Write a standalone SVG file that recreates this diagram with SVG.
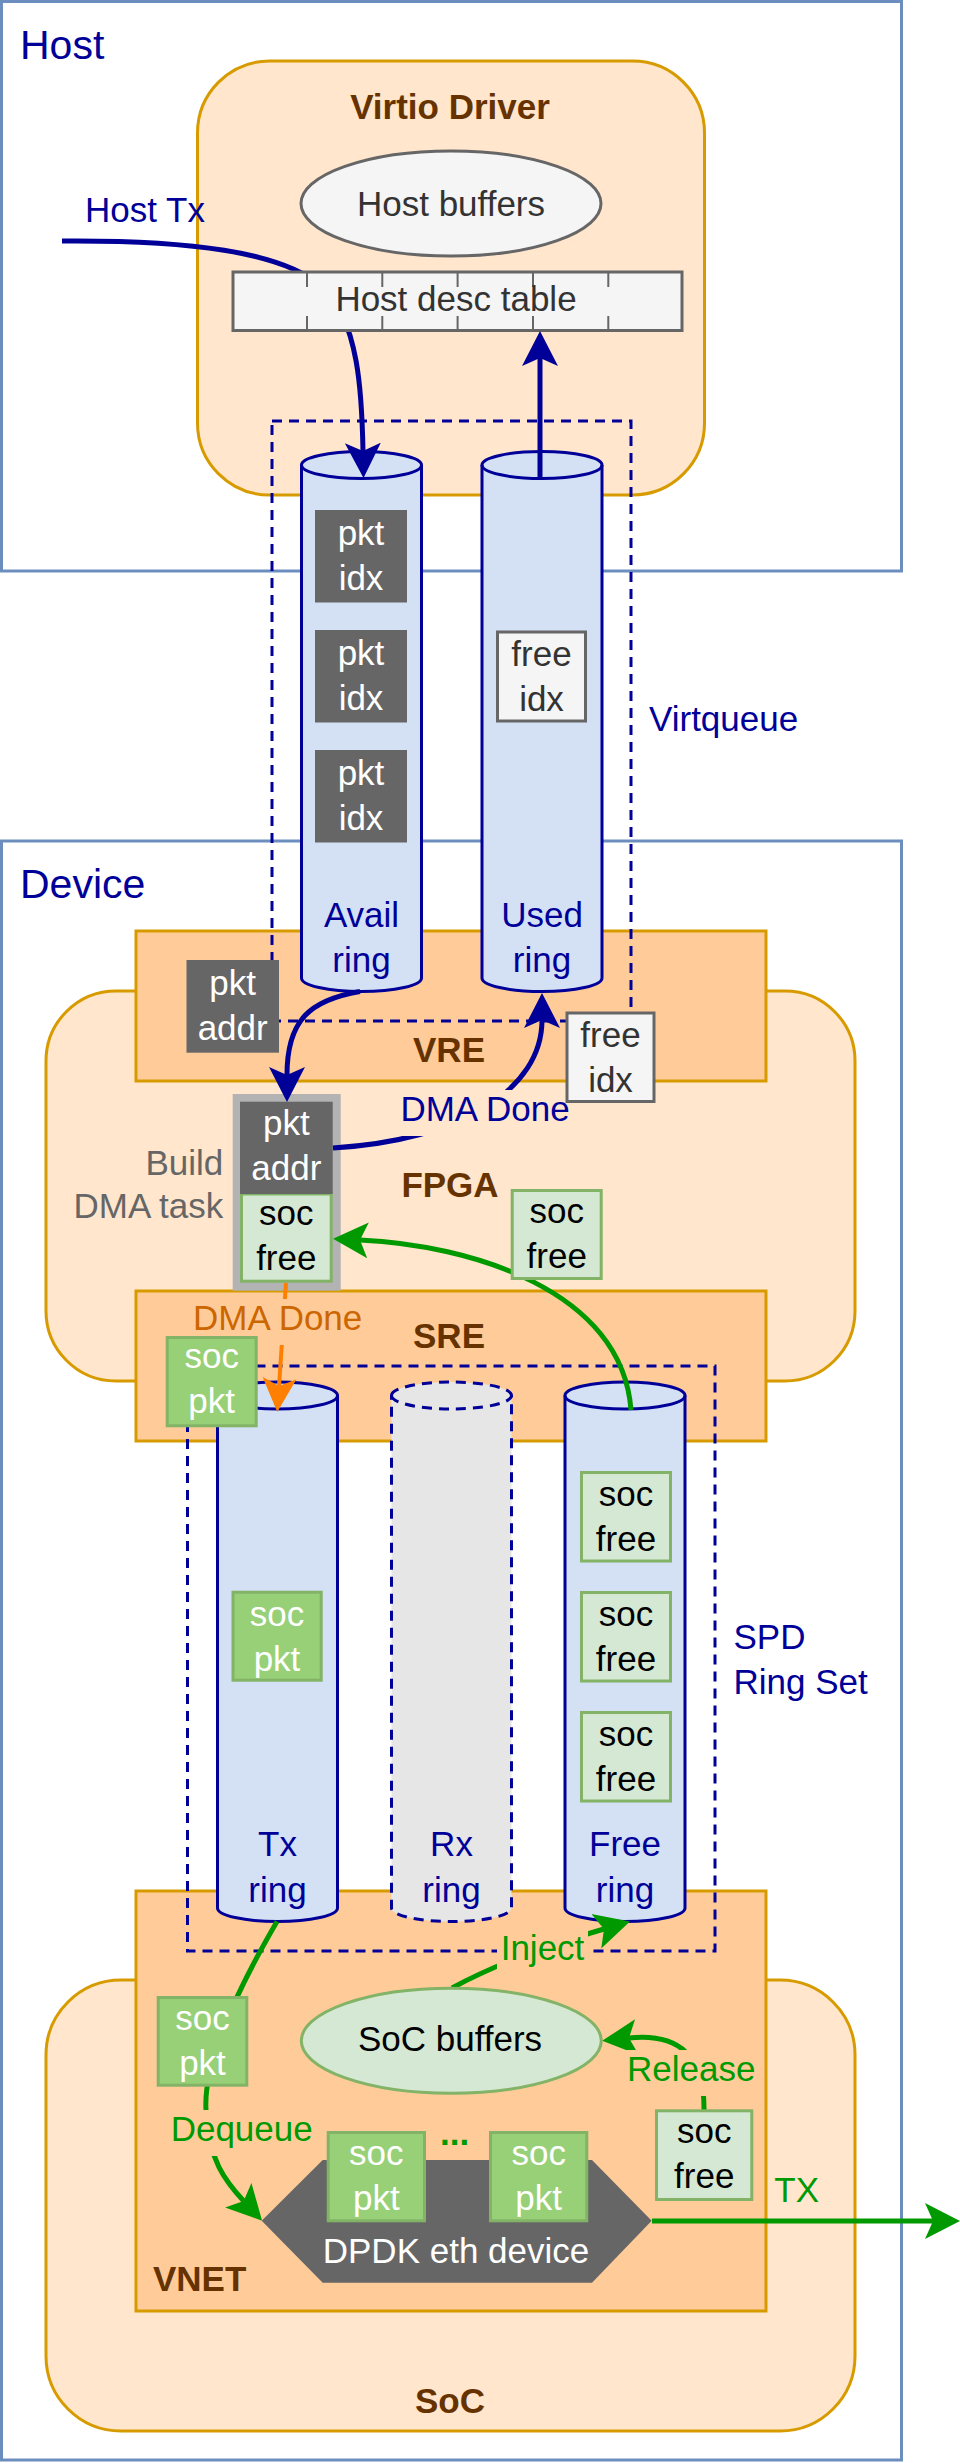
<svg xmlns="http://www.w3.org/2000/svg" width="960" height="2463" viewBox="0 0 960 2463">
<style>
text{font-family:"Liberation Sans",Arial,Helvetica,sans-serif;font-size:35px}
.m{text-anchor:middle}
.e{text-anchor:end}
.tw{fill:#ffffff}
.tb{fill:#000099}
.tg{fill:#009900}
.tbr{fill:#663300;font-weight:bold}
.tgr{fill:#333333}
.tk{fill:#000000}
.tgy{fill:#666666}
.to{fill:#cc6600}
.outer{fill:#ffffff;stroke:#6c8ebf;stroke-width:3}
.soft{fill:#ffe6cc;stroke:#d79b00;stroke-width:3}
.mid{fill:#ffcc99;stroke:#d79b00;stroke-width:3}
.dash{fill:none;stroke:#000099;stroke-width:3;stroke-dasharray:10 7}
.ring{fill:#d4e1f5;stroke:#000099;stroke-width:3}
.ringx{fill:#e6e6e6;stroke:#000099;stroke-width:3;stroke-dasharray:10 7}
.rim{fill:none;stroke:#000099;stroke-width:3}
.rimx{fill:none;stroke:#000099;stroke-width:3;stroke-dasharray:10 7}
.dark{fill:#666666}
.gbox{fill:#97d077;stroke:#82b366;stroke-width:3}
.lbox{fill:#d5e8d4;stroke:#82b366;stroke-width:3}
.wbox{fill:#f5f5f5;stroke:#666666;stroke-width:3}
.eb{fill:none;stroke:#000099;stroke-width:5}
.eg{fill:none;stroke:#009900;stroke-width:5}
.eo{fill:none;stroke:#ff8000;stroke-width:4}
.bgs{fill:#ffe6cc}
.bgm{fill:#ffcc99}
</style>
<defs>
<marker id="ahb" viewBox="0 0 40 40" refX="8" refY="20" markerWidth="40" markerHeight="40" markerUnits="userSpaceOnUse" orient="auto"><path d="M35,20 L0,2 L8,20 L0,38 Z" fill="#000099"/></marker>
<marker id="ahg" viewBox="0 0 40 40" refX="8" refY="20" markerWidth="40" markerHeight="40" markerUnits="userSpaceOnUse" orient="auto"><path d="M35,20 L0,2 L8,20 L0,38 Z" fill="#009900"/></marker>
<marker id="aho" viewBox="0 0 40 40" refX="8" refY="20" markerWidth="40" markerHeight="40" markerUnits="userSpaceOnUse" orient="auto"><path d="M34,20 L0,3 L8,20 L0,37 Z" fill="#ff8000"/></marker>
</defs>
<rect width="960" height="2463" fill="#ffffff"/>

<g id="host">
<rect class="outer" x="1.5" y="1.5" width="900" height="569.5"/>
<text x="20" y="59" class="tb" style="font-size:41px">Host</text>
</g>
<g id="device">
<rect class="outer" x="1.5" y="841" width="900" height="1619"/>
<text x="20" y="898" class="tb" style="font-size:41px">Device</text>
</g>

<g id="virtio-driver">
<rect class="soft" x="197.5" y="61" width="507" height="434" rx="72" ry="72"/>
<text x="450" y="119" class="m tbr">Virtio Driver</text>
</g>
<g id="host-buffers">
<ellipse cx="451" cy="203.5" rx="150" ry="52.5" fill="#f5f5f5" stroke="#666666" stroke-width="3"/>
<text x="451" y="216" class="m tgr">Host buffers</text>
</g>

<g id="fpga">
<rect class="soft" x="46" y="991" width="809" height="390" rx="70" ry="70"/>
<text x="450" y="1196.5" class="m tbr">FPGA</text>
</g>
<g id="vre">
<rect class="mid" x="136" y="931" width="630" height="150"/>
<text x="449" y="1061.5" class="m tbr">VRE</text>
</g>
<g id="sre">
<rect class="mid" x="136" y="1291" width="630" height="150"/>
<text x="449" y="1348" class="m tbr">SRE</text>
</g>
<g id="soc">
<rect class="soft" x="46" y="1980" width="809" height="451" rx="75" ry="75"/>
<text x="450" y="2413" class="m tbr">SoC</text>
</g>
<g id="vnet">
<rect class="mid" x="136" y="1891" width="630" height="420"/>
<text x="153" y="2290.5" class="tbr">VNET</text>
</g>

<g id="virtqueue">
<rect class="dash" x="272" y="421" width="359" height="600"/>
<text x="649" y="730.5" class="tb">Virtqueue</text>
</g>
<g id="spd-ring-set">
<rect class="dash" x="187.5" y="1366" width="527.5" height="585"/>
<text x="733.5" y="1649.3" class="tb">SPD</text>
<text x="733.5" y="1694.3" class="tb">Ring Set</text>
</g>

<g id="avail-ring">
<path class="ring" d="M301.5,465 A60,13.5 0 0 1 421.5,465 V978 A60,13.5 0 0 1 301.5,978 Z"/>
<path class="rim" d="M301.5,465 A60,13.5 0 0 0 421.5,465"/>
<text x="361.5" y="926.5" class="m tb">Avail</text>
<text x="361.5" y="971.5" class="m tb">ring</text>
</g>
<g id="used-ring">
<path class="ring" d="M482,465 A60,13.5 0 0 1 602,465 V978 A60,13.5 0 0 1 482,978 Z"/>
<path class="rim" d="M482,465 A60,13.5 0 0 0 602,465"/>
<text x="542" y="926.5" class="m tb">Used</text>
<text x="542" y="971.5" class="m tb">ring</text>
</g>
<g id="tx-ring">
<path class="ring" d="M217.5,1395.5 A60,13.5 0 0 1 337.5,1395.5 V1908 A60,13.5 0 0 1 217.5,1908 Z"/>
<path class="rim" d="M217.5,1395.5 A60,13.5 0 0 0 337.5,1395.5"/>
<text x="277.5" y="1856" class="m tb">Tx</text>
<text x="277.5" y="1901.5" class="m tb">ring</text>
</g>
<g id="rx-ring">
<path class="ringx" d="M391.5,1395.5 A60,13.5 0 0 1 511.5,1395.5 V1908 A60,13.5 0 0 1 391.5,1908 Z"/>
<path class="rimx" d="M391.5,1395.5 A60,13.5 0 0 0 511.5,1395.5"/>
<text x="451.5" y="1856" class="m tb">Rx</text>
<text x="451.5" y="1901.5" class="m tb">ring</text>
</g>
<g id="free-ring">
<path class="ring" d="M565,1395.5 A60,13.5 0 0 1 685,1395.5 V1908 A60,13.5 0 0 1 565,1908 Z"/>
<path class="rim" d="M565,1395.5 A60,13.5 0 0 0 685,1395.5"/>
<text x="625" y="1856" class="m tb">Free</text>
<text x="625" y="1901.5" class="m tb">ring</text>
</g>

<g id="pkt-idx-1"><rect class="dark" x="315" y="510" width="92" height="92.5"/><text x="361" y="545" class="m tw">pkt</text><text x="361" y="590" class="m tw">idx</text></g>
<g id="pkt-idx-2"><rect class="dark" x="315" y="630" width="92" height="92.5"/><text x="361" y="665" class="m tw">pkt</text><text x="361" y="710" class="m tw">idx</text></g>
<g id="pkt-idx-3"><rect class="dark" x="315" y="750" width="92" height="92.5"/><text x="361" y="785" class="m tw">pkt</text><text x="361" y="830" class="m tw">idx</text></g>
<g id="free-idx-used"><rect class="wbox" x="497.5" y="632" width="88" height="89"/><text x="541.5" y="665.5" class="m tgr">free</text><text x="541.5" y="710.5" class="m tgr">idx</text></g>
<g id="pkt-addr-vre"><rect class="dark" x="186.5" y="960" width="92.5" height="92.7"/><text x="232.7" y="995" class="m tw">pkt</text><text x="232.7" y="1040" class="m tw">addr</text></g>

<g id="build-dma-task">
<rect fill="#b3b3b3" x="232.7" y="1094" width="108" height="196.7"/>
<rect class="lbox" x="241.5" y="1194" width="89.7" height="87.2"/>
<rect class="dark" x="240" y="1101.7" width="92.7" height="92.3"/>
<text x="286.3" y="1135" class="m tw">pkt</text>
<text x="286.3" y="1180" class="m tw">addr</text>
<text x="286.3" y="1225" class="m tk">soc</text>
<text x="286.3" y="1270" class="m tk">free</text>
<text x="223.3" y="1175" class="e tgy">Build</text>
<text x="223.3" y="1218" class="e tgy">DMA task</text>
</g>

<g id="dpdk-eth-device">
<polygon class="dark" points="261.7,2220.7 322.7,2160 592,2160 651.7,2220.7 592,2282.7 322.7,2282.7"/>
<text x="456" y="2262.5" class="m tw">DPDK eth device</text>
</g>

<g id="host-desc-table">
<g id="connectors-under-table">
<path class="eb" d="M62,241 C190,240 280,252 320,285 S362,400 363,451" marker-end="url(#ahb)"/>
</g>
<rect x="233" y="272" width="449" height="58.5" fill="#f5f5f5" stroke="#666666" stroke-width="3"/>
<path d="M307,272 V287 M382.3,272 V287 M457.6,272 V287 M533,272 V287 M608.3,272 V287 M307,316 V330.5 M382.3,316 V330.5 M457.6,316 V330.5 M533,316 V330.5 M608.3,316 V330.5" stroke="#666666" stroke-width="2" fill="none"/>
<text x="456" y="311" class="m tgr">Host desc table</text>
</g>
<text x="85" y="221.5" class="tb">Host Tx</text>

<g id="connectors">
<path class="eb" d="M540,478 L540,358" marker-end="url(#ahb)"/>
<path class="eb" d="M360,991.5 C310,1000 287,1020 287,1075" marker-end="url(#ahb)"/>
<path class="eb" d="M333,1148 C460,1140 542,1090 542,1020" marker-end="url(#ahb)"/>
<path class="eg" d="M631,1410 C622,1290 470,1245 360,1240" marker-end="url(#ahg)"/>
<path class="eo" d="M286,1283 L279,1386" marker-end="url(#aho)"/>
<path class="eg" d="M277,1921.5 C240,1985 203,2060 206,2110 C208,2160 226,2182 243.7,2201" marker-end="url(#ahg)"/>
<path class="eg" d="M452,1988 Q513,1955 604,1929" marker-end="url(#ahg)"/>
<path class="eg" d="M704,2110 Q705,2030 629,2038" marker-end="url(#ahg)"/>
<path class="eg" d="M652,2221 L933,2221" marker-end="url(#ahg)"/>
<rect class="bgs" x="396" y="1090" width="170" height="46"/>
<rect class="bgm" x="189" y="1299" width="177" height="46"/>
<rect class="bgm" x="497" y="1929" width="91" height="46"/>
<rect class="bgm" x="168" y="2110" width="147" height="46"/>
<rect class="bgm" x="624" y="2050" width="134" height="46"/>
<text x="485" y="1121" class="m tb">DMA Done</text>
<text x="277.7" y="1330" class="m to">DMA Done</text>
<text x="542.5" y="1960" class="m tg">Inject</text>
<text x="241.7" y="2140.5" class="m tg">Dequeue</text>
<text x="691.3" y="2080.5" class="m tg">Release</text>
<text x="774.3" y="2201.5" class="tg">TX</text>
</g>

<g id="free-idx-vre"><rect class="wbox" x="567" y="1013" width="87" height="88.5"/><text x="610.5" y="1046.5" class="m tgr">free</text><text x="610.5" y="1091.5" class="m tgr">idx</text></g>
<g id="soc-free-fpga"><rect class="lbox" x="512.2" y="1190.5" width="89" height="88"/><text x="556.7" y="1223.3" class="m tk">soc</text><text x="556.7" y="1268.3" class="m tk">free</text></g>
<g id="soc-pkt-sre"><rect class="gbox" x="167.2" y="1337.5" width="89" height="88.3"/><text x="211.7" y="1368.3" class="m tw">soc</text><text x="211.7" y="1413.3" class="m tw">pkt</text></g>
<g id="soc-free-1"><rect class="lbox" x="581.5" y="1472.5" width="89" height="88.5"/><text x="626" y="1506" class="m tk">soc</text><text x="626" y="1551" class="m tk">free</text></g>
<g id="soc-free-2"><rect class="lbox" x="581.5" y="1592.5" width="89" height="88.5"/><text x="626" y="1626" class="m tk">soc</text><text x="626" y="1671" class="m tk">free</text></g>
<g id="soc-free-3"><rect class="lbox" x="581.5" y="1712.5" width="89" height="88.5"/><text x="626" y="1746" class="m tk">soc</text><text x="626" y="1791" class="m tk">free</text></g>
<g id="soc-pkt-tx"><rect class="gbox" x="233" y="1592.2" width="88.2" height="88"/><text x="277" y="1625.5" class="m tw">soc</text><text x="277" y="1670.5" class="m tw">pkt</text></g>
<g id="soc-buffers">
<ellipse cx="451.3" cy="2040.8" rx="150" ry="52.5" fill="#d5e8d4" stroke="#82b366" stroke-width="3"/>
<text x="450" y="2050.5" class="m tk">SoC buffers</text>
</g>
<g id="soc-pkt-dequeue"><rect class="gbox" x="158.2" y="1997.5" width="88.6" height="87.7"/><text x="202.5" y="2030" class="m tw">soc</text><text x="202.5" y="2075" class="m tw">pkt</text></g>
<g id="soc-pkt-eth-1"><rect class="gbox" x="328.2" y="2132.5" width="96.3" height="88.3"/><text x="376.3" y="2165" class="m tw">soc</text><text x="376.3" y="2210" class="m tw">pkt</text></g>
<g id="soc-pkt-eth-2"><rect class="gbox" x="490.5" y="2132.5" width="96.3" height="88.3"/><text x="538.7" y="2165" class="m tw">soc</text><text x="538.7" y="2210" class="m tw">pkt</text></g>
<text x="440" y="2145" class="tg" style="font-weight:bold">...</text>
<g id="soc-free-release"><rect class="lbox" x="656.5" y="2110.8" width="95.3" height="88.7"/><text x="704.2" y="2143.3" class="m tk">soc</text><text x="704.2" y="2188.3" class="m tk">free</text></g>
</svg>
